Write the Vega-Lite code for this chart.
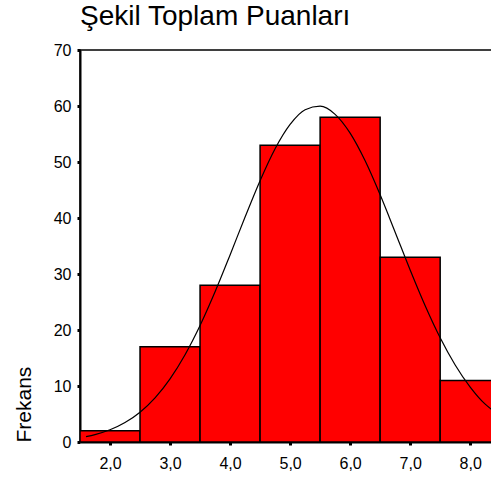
{
  "$schema": "https://vega.github.io/schema/vega-lite/v6.json",
  "autosize": "none",
  "width": 413,
  "height": 392,
  "padding": {"left": 80, "top": 50, "right": 0, "bottom": 50},
  "background": "white",
  "config": {
    "font": "Liberation Sans",
    "view": {"stroke": "black", "strokeWidth": 1.5},
    "axis": {
      "grid": false,
      "labelFont": "Arial", "labelColor": "black", "labelFontSize": 16,
      "domainColor": "black", "domainWidth": 2,
      "tickColor": "black", "tickSize": 3, "tickWidth": 3
    }
  },
  "title": {
    "text": "Şekil Toplam Puanları",
    "anchor": "start",
    "frame": "group",
    "font": "Liberation Sans",
    "fontSize": 28,
    "fontWeight": "normal",
    "color": "black",
    "offset": 11
  },
  "datasets": {
    "bars": [
      {"x": 1.5, "x2": 2.5, "y": 2},
      {"x": 2.5, "x2": 3.5, "y": 17},
      {"x": 3.5, "x2": 4.5, "y": 28},
      {"x": 4.5, "x2": 5.5, "y": 53},
      {"x": 5.5, "x2": 6.5, "y": 58},
      {"x": 6.5, "x2": 7.5, "y": 33},
      {"x": 7.5, "x2": 8.5, "y": 11}
    ],
    "curve": [
      {"x": 1.6, "y": 0.97}, {"x": 1.75, "y": 1.33}, {"x": 2.0, "y": 2.18},
      {"x": 2.25, "y": 3.47}, {"x": 2.5, "y": 5.32}, {"x": 2.75, "y": 7.88},
      {"x": 3.0, "y": 11.28}, {"x": 3.25, "y": 15.59}, {"x": 3.5, "y": 20.81},
      {"x": 3.75, "y": 26.83}, {"x": 4.0, "y": 33.41}, {"x": 4.25, "y": 40.18},
      {"x": 4.5, "y": 46.67}, {"x": 4.75, "y": 52.37}, {"x": 5.0, "y": 56.71},
      {"x": 5.25, "y": 59.34}, {"x": 5.5, "y": 59.96}, {"x": 5.75, "y": 58.51},
      {"x": 6.0, "y": 55.15}, {"x": 6.25, "y": 50.21}, {"x": 6.5, "y": 44.14},
      {"x": 6.75, "y": 37.47}, {"x": 7.0, "y": 30.72}, {"x": 7.25, "y": 24.34},
      {"x": 7.5, "y": 18.62}, {"x": 7.75, "y": 13.76}, {"x": 8.0, "y": 9.81},
      {"x": 8.25, "y": 6.76}, {"x": 8.36, "y": 5.8}
    ]
  },
  "encoding": {
    "x": {
      "field": "x", "type": "quantitative",
      "scale": {"domain": [1.5, 8.38], "nice": false, "zero": false},
      "axis": {
        "values": [2, 3, 4, 5, 6, 7, 8],
        "labelExpr": "replace(format(datum.value, '.1f'), '.', ',')",
        "title": null,
        "labelFontSize": 16,
        "labelPadding": 10
      }
    },
    "y": {
      "field": "y", "type": "quantitative",
      "scale": {"domain": [0, 70], "nice": false},
      "axis": {
        "values": [0, 10, 20, 30, 40, 50, 60, 70],
        "title": "Frekans",
        "titleAnchor": "start",
        "titleFont": "Liberation Sans", "titleFontSize": 21, "titleFontWeight": "normal",
        "titleColor": "black", "titlePadding": 19,
        "labelFontSize": 16,
        "labelPadding": 6
      }
    }
  },
  "layer": [
    {
      "data": {"name": "bars"},
      "mark": {"type": "bar", "fill": "#ff0000", "stroke": "black", "strokeWidth": 1.5, "clip": true},
      "encoding": {
        "x2": {"field": "x2"},
        "y2": {"datum": 0}
      }
    },
    {
      "data": {"name": "curve"},
      "mark": {"type": "line", "color": "black", "strokeWidth": 1.2, "interpolate": "monotone", "clip": true},
      "encoding": {}
    }
  ]
}
